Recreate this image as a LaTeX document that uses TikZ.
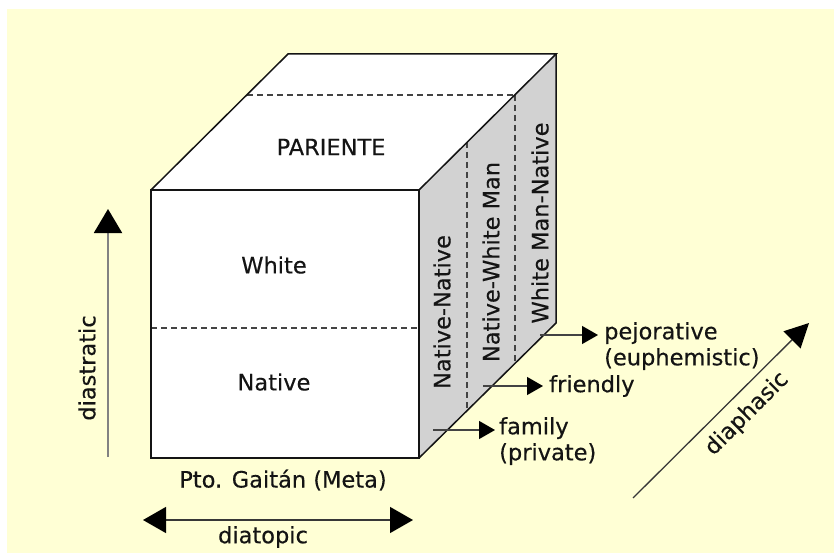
\documentclass[tikz,border=0pt]{standalone}
\usepackage{fontspec}
\setmainfont[FakeBold=0.35]{DejaVu Sans}
\usetikzlibrary{arrows.meta}
\definecolor{bgyellow}{RGB}{255,255,213}
\definecolor{facegray}{RGB}{210,210,210}
\definecolor{ink}{RGB}{20,20,20}
\definecolor{axisgray}{RGB}{130,130,130}
\begin{document}
\begin{tikzpicture}[x=1pt,y=-1pt,
  lbl/.style={font=\fontsize{22.5}{26}\selectfont, text=ink, inner sep=0pt},
  edge/.style={draw=ink, line width=1.5pt, line join=miter},
  divider/.style={draw=ink!80, line width=1.3pt, dash pattern=on 6pt off 4pt},
  smallarr/.style={draw=ink!80, line width=1.2pt, -{Triangle[length=16pt,width=18pt,color=black]}},
  axisarr/.style={draw=ink!85, line width=1.3pt}]
\useasboundingbox (0,0) rectangle (834,553);
\fill[bgyellow] (7,9) rectangle (834,553);
% cube corners
\coordinate (F1) at (151,190);
\coordinate (F2) at (419,190);
\coordinate (F3) at (419,458);
\coordinate (F4) at (151,458);
\coordinate (B1) at (288,54);
\coordinate (B2) at (556,54);
\coordinate (B3) at (556,323);
% faces
\fill[white] (F1) rectangle (F3);
\fill[white] (F1) -- (B1) -- (B2) -- (F2) -- cycle;
\fill[facegray] (F2) -- (B2) -- (B3) -- (F3) -- cycle;
% dividers
\coordinate (tdL) at (247,95);
\coordinate (tdR) at (515,95);
\coordinate (r1t) at (467,142);
\coordinate (r1b) at (467,410);
\coordinate (r2t) at (515,95);
\coordinate (r2b) at (515,363);
\coordinate (fdL) at (151,328);
\coordinate (fdR) at (419,328);
\draw[divider] (tdL) -- (tdR);
\draw[divider] (r1t) -- (r1b);
\draw[divider] (r2t) -- (r2b);
\draw[divider] (fdL) -- (fdR);
% edges
\draw[edge] (F1) rectangle (F3);
\draw[edge] (F1) -- (B1) -- (B2) -- (F2);
\draw[edge] (B2) -- (B3) -- (F3);
% labels on faces
\node[lbl] (pariente) at (331,147) {PARIENTE};
\node[lbl] (white) at (274,265) {White};
\node[lbl] (native) at (274,382) {Native};
\node[lbl, rotate=90] (nn) at (442,312) {Native-Native};
\node[lbl, rotate=90] (nw) at (491,262) {Native-White Man};
\node[lbl, rotate=90] (wn) at (540,223) {White Man-Native};
% register arrows
\coordinate (pj0) at (540,335);
\coordinate (pj1) at (598,335);
\coordinate (fr0) at (483,386);
\coordinate (fr1) at (543,386);
\coordinate (fa0) at (433,430);
\coordinate (fa1) at (495,430);
\node[lbl, anchor=north west, align=left] (pej) at (604,322) {pejorative\\(euphemistic)};
\node[lbl, anchor=west] (fri) at (549,386) {friendly};
\node[lbl, anchor=north west, align=left] (fam) at (499,417) {family\\(private)};
\draw[smallarr] (pj0) -- (pj1);
\draw[smallarr] (fr0) -- (fr1);
\draw[smallarr] (fa0) -- (fa1);
% diastratic axis
\coordinate (ds0) at (108,457);
\coordinate (ds1) at (108,209);
\draw[draw=axisgray, line width=2pt, -{Triangle[length=24pt,width=28pt,color=black]}] (ds0) -- (ds1);
\node[lbl, rotate=90] (diastratic) at (87,368) {diastratic};
% diatopic axis
\node[lbl] (pto) at (283,480) {Pto. Gaitán (Meta)};
\coordinate (dt0) at (143,520);
\coordinate (dt1) at (413,520);
\draw[axisarr, {Triangle[length=23pt,width=26pt,color=black]}-{Triangle[length=23pt,width=26pt,color=black]}] (dt0) -- (dt1);
\node[lbl] (diatopic) at (263,537) {diatopic};
% diaphasic axis
\coordinate (dp0) at (633,498);
\coordinate (dp1) at (809,323);
\draw[axisarr, -{Triangle[length=24pt,width=24pt,color=black]}] (dp0) -- (dp1);
\node[lbl, rotate=45] (diaphasic) at (747,414) {diaphasic};
\end{tikzpicture}
\end{document}
